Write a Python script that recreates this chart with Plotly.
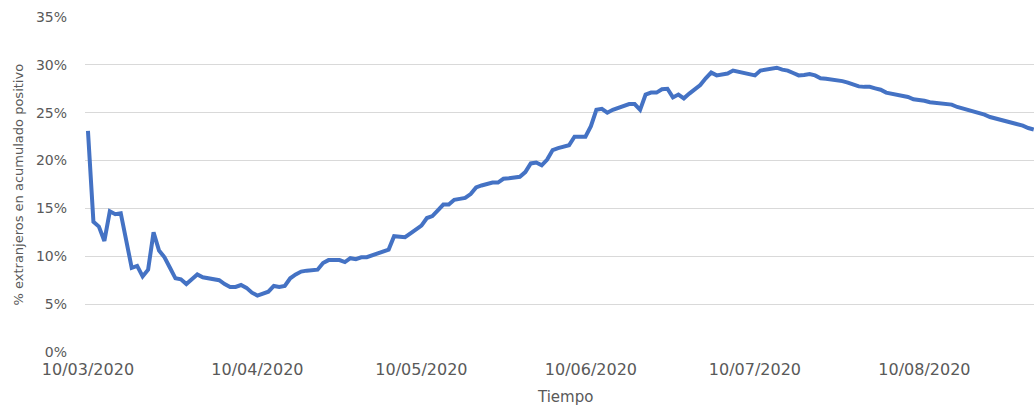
import pandas as pd
import plotly.graph_objects as go

# --- data ---
start_date = "2020-03-10"
pct_extranjeros = [
    23.1, 13.6, 13.1, 11.6, 14.7, 14.4, 14.5, 11.7, 8.8, 9.0,
    7.9, 8.6, 12.5, 10.6, 9.9, 8.8, 7.7, 7.6, 7.1, 7.6,
    8.1, 7.8, 7.7, 7.6, 7.5, 7.1, 6.8, 6.8, 7.0, 6.7,
    6.2, 5.9, 6.1, 6.3, 6.9, 6.8, 6.9, 7.7, 8.1, 8.4,
    8.5, 8.5, 8.6, 9.3, 9.6, 9.6, 9.6, 9.4, 9.8, 9.7,
    9.9, 9.9, 10.1, 10.3, 10.6, 10.7, 12.1, 12.0, 12.0, 12.4,
    12.8, 13.2, 14.0, 14.2, 14.8, 15.4, 15.4, 15.9, 16.0, 16.1,
    16.5, 17.2, 17.4, 17.6, 17.7, 17.7, 18.1, 18.15, 18.2, 18.3,
    18.8, 19.7, 19.8, 19.5, 20.1, 21.1, 21.3, 21.4, 21.6, 22.5,
    22.5, 22.5, 23.6, 25.3, 25.4, 25.0, 25.3, 25.5, 25.6, 25.9,
    25.9, 25.3, 26.9, 27.1, 27.1, 27.45, 27.5, 26.6, 26.9, 26.5,
    27.0, 27.4, 27.9, 28.6, 29.2, 28.9, 29.05, 29.1, 29.4, 29.3,
    29.2, 29.0, 28.9, 29.4, 29.5, 29.5, 29.7, 29.5, 29.4, 29.15,
    28.9, 28.95, 29.05, 28.9, 28.6, 28.55, 28.5, 28.35, 28.3, 28.15,
    27.9, 27.75, 27.7, 27.7, 27.55, 27.4, 27.1, 27.0, 26.9, 26.75,
    26.65, 26.4, 26.35, 26.25, 26.1, 26.05, 26.0, 25.9, 25.85, 25.6,
    25.45, 25.3, 25.2, 25.0, 24.8, 24.55, 24.4, 24.25, 24.15, 24.0,
    23.9, 23.65, 23.4, 23.25,
]
tick_dates = ["2020-03-10", "2020-04-10", "2020-05-10", "2020-06-10", "2020-07-10", "2020-08-10"]
tick_labels = ["10/03/2020", "10/04/2020", "10/05/2020", "10/06/2020", "10/07/2020", "10/08/2020"]
y_ticks = [0, 5, 10, 15, 20, 25, 30, 35]
y_tick_labels = ["0%", "5%", "10%", "15%", "20%", "25%", "30%", "35%"]

dates = pd.date_range(start_date, periods=len(pct_extranjeros), freq="D")

x0 = pd.Timestamp(start_date) - pd.Timedelta(hours=13)
x1 = pd.Timestamp(start_date) + pd.Timedelta(days=173.05)

W, H = 1034, 406
L, T, B = 85, 17, 54
plot_w = W - L

grey = "#595959"
fig = go.Figure()
fig.add_trace(go.Scatter(
    x=dates, y=pct_extranjeros, mode="lines",
    line=dict(color="#4472C4", width=4),
    showlegend=False,
))

fig.update_layout(
    width=W, height=H,
    margin=dict(l=L, r=0, t=T, b=B),
    paper_bgcolor="white", plot_bgcolor="white",
    font=dict(family="DejaVu Sans", color=grey),
    xaxis=dict(
        range=[x0, x1], tickmode="array", tickvals=tick_dates, ticktext=tick_labels,
        showgrid=False, zeroline=False, showline=False, ticks="",
        tickfont=dict(size=16, color=grey), ticklabelstandoff=6,
    ),
    yaxis=dict(
        range=[0, 35], tickmode="array", tickvals=y_ticks, ticktext=y_tick_labels,
        showgrid=True, gridcolor="#d9d9d9", gridwidth=1,
        zeroline=False, showline=False, ticks="",
        tickfont=dict(size=14, color=grey), ticklabelstandoff=17,
    ),
    annotations=[
        dict(text="% extranjeros en acumulado positivo", xref="paper", yref="paper",
             x=0, y=0.5, xshift=-(L - 18), textangle=-90, showarrow=False,
             xanchor="center", yanchor="middle", font=dict(size=13, color=grey)),
        dict(text="Tiempo", xref="paper", yref="paper",
             x=(565 - L) / plot_w, y=0, yshift=-45, showarrow=False,
             xanchor="center", yanchor="middle", font=dict(size=15, color=grey)),
    ],
)

fig.write_html(
    "out.html",
    config={"displayModeBar": False},
    post_script="document.body.style.margin='0';document.body.style.overflow='hidden';",
)
